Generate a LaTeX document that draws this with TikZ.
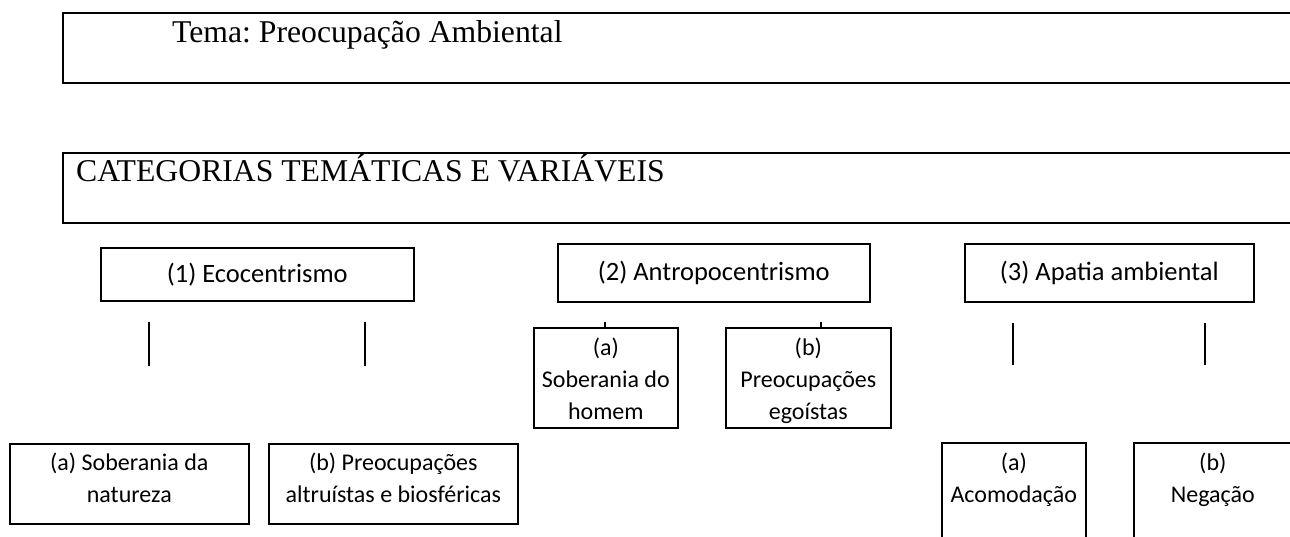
\documentclass[tikz,border=0pt]{standalone}
\usepackage{fontspec}
\setmainfont{Carlito}
\newfontfamily\tnr{Liberation Serif}
\frenchspacing
\begin{document}
\begin{tikzpicture}[x=1pt,y=-1pt,
  hdr/.style={draw, line width=2.2pt, inner sep=0pt, anchor=north west, minimum width=1260pt, minimum height=70pt},
  box/.style={draw, line width=1.6pt, inner sep=0pt, anchor=north west},
  hdrtext/.style={anchor=base west, inner sep=0pt, font=\tnr\fontsize{31.7}{36}\selectfont},
  cattext/.style={font=\fontsize{26.5}{32}\selectfont},
  lbl/.style={anchor=north, inner sep=0pt, align=center, font=\fontsize{24}{32}\selectfont},
  vline/.style={line width=1.6pt}]
\useasboundingbox (0,0) rectangle (1290,536);
\clip (0,0) rectangle (1290,536);

% header boxes (open at the right edge)
\node[hdr] (tema) at (62,12) {};
\node[hdrtext] (temaT) at (172,42) {Tema: Preocupação Ambiental};
\node[hdr] (categ) at (62,152) {};
\node[hdrtext] (categT) at (76,181) {CATEGORIAS TEMÁTICAS E VARIÁVEIS};

% level 1 categories
\node[box, cattext, minimum width=313pt, minimum height=53pt] (eco) at (100,247) {(1) Ecocentrismo};
\node[box, cattext, minimum width=312pt, minimum height=58pt] (antro) at (557,243) {(2) Antropocentrismo};
\node[box, cattext, minimum width=289pt, minimum height=58pt] (apatia) at (964,243) {(3) Apatia ambiental};

% variables of (1)
\node[box, minimum width=239pt, minimum height=80pt] (ecoA) at (9,443) {};
\node[lbl] (ecoAT) at ([yshift=-10pt]ecoA.north) {\rule{0pt}{17pt}(a) Soberania da\\natureza};
\node[box, minimum width=249pt, minimum height=80pt] (ecoB) at (268,443) {};
\node[lbl] (ecoBT) at ([yshift=-10pt]ecoB.north) {\rule{0pt}{17pt}(b) Preocupações\\altruístas e biosféricas};

% variables of (2)
\node[box, minimum width=144pt, minimum height=100pt] (antroA) at (533,327) {};
\node[lbl] (antroAT) at ([yshift=-11pt]antroA.north) {\rule{0pt}{17pt}(a)\\Soberania do\\homem};
\node[box, minimum width=165pt, minimum height=100pt] (antroB) at (725,327) {};
\node[lbl] (antroBT) at ([yshift=-11pt]antroB.north) {\rule{0pt}{17pt}(b)\\Preocupações\\egoístas};

% variables of (3)
\node[box, minimum width=144pt, minimum height=110pt] (apA) at (941,442) {};
\node[lbl] (apAT) at ([yshift=-11pt]apA.north) {\rule{0pt}{17pt}(a)\\Acomodação};
\node[box, minimum width=170pt, minimum height=110pt] (apB) at (1133,442) {};
\node[lbl] (apBT) at ([xshift=-6pt,yshift=-11pt]apB.north) {\rule{0pt}{17pt}(b)\\Negação};

% free-standing connector stubs
\coordinate (e1t) at (149,322); \coordinate (e1b) at (149,366);
\coordinate (e2t) at (365,322); \coordinate (e2b) at (365,366);
\coordinate (a1t) at (1013,323); \coordinate (a1b) at (1013,365);
\coordinate (a2t) at (1205,323); \coordinate (a2b) at (1205,365);
\coordinate (t1) at (605,322); \coordinate (t2) at (821,322);
\draw[vline] (e1t) -- (e1b);
\draw[vline] (e2t) -- (e2b);
\draw[vline] (a1t) -- (a1b);
\draw[vline] (a2t) -- (a2b);
\draw[vline] (t1) -- (t1 |- antroA.north);
\draw[vline] (t2) -- (t2 |- antroB.north);
\end{tikzpicture}
\end{document}
